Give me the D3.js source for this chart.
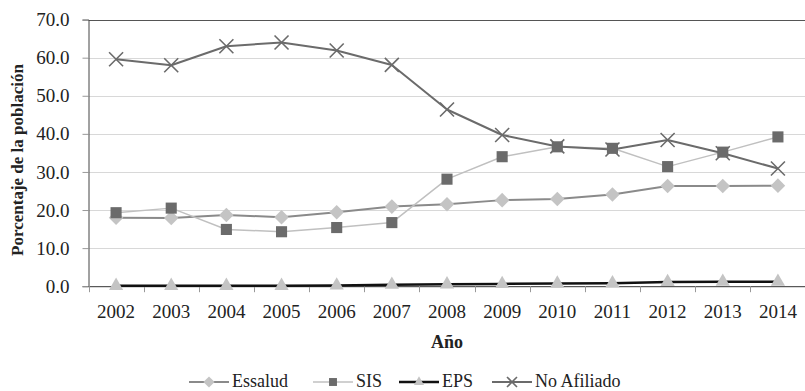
<!DOCTYPE html><html><head><meta charset="UTF-8"><script src="https://d3js.org/d3.v7.min.js"></script><style>
    body { margin: 0; background: #fff; }
    svg { font-family: "Liberation Serif", "Times New Roman", serif; }
</style></head><body><div id="chart"></div><script>
    const years = ['2002','2003','2004','2005','2006','2007','2008','2009','2010','2011','2012','2013','2014'];
    const essalud = [18.0, 17.9, 18.7, 18.1, 19.4, 20.9, 21.5, 22.6, 22.9, 24.1, 26.3, 26.3, 26.4];
    const sis = [19.3, 20.5, 14.9, 14.3, 15.4, 16.7, 28.1, 34.0, 36.6, 36.2, 31.4, 35.2, 39.2];
    const eps = [0.1, 0.1, 0.1, 0.1, 0.2, 0.4, 0.5, 0.6, 0.7, 0.8, 1.1, 1.2, 1.2];
    const noAfiliado = [59.6, 58.0, 63.0, 64.0, 61.9, 58.1, 46.4, 39.7, 36.7, 35.9, 38.4, 34.9, 30.9];
    const yTicks = [0, 10, 20, 30, 40, 50, 60, 70];

    const series = [
        {name: 'Essalud', values: essalud, line: '#8a8a8a', lw: 2, marker: 'diamond', fill: '#c4c4c4'},
        {name: 'SIS', values: sis, line: '#c0c0c0', lw: 1.5, marker: 'square', fill: '#6b6b6b'},
        {name: 'EPS', values: eps, line: '#111', lw: 2.5, marker: 'triangle', fill: '#c4c4c4'},
        {name: 'No Afiliado', values: noAfiliado, line: '#6b6b6b', lw: 2, marker: 'cross', fill: '#6b6b6b'}
    ];

    const W = 805, H = 391;
    const plotLeft = 88.5, plotRight = 805.5, plotTop = 19.6, plotBottom = 286.2;

    const svg = d3.select('#chart').append('svg')
        .attr('width', W).attr('height', H);

    const x = d3.scaleBand().domain(years).range([plotLeft, plotRight]);
    const y = d3.scaleLinear().domain([0, 70]).range([plotBottom, plotTop]);
    const cx = d => x(d) + x.bandwidth() / 2;

    // gridlines
    svg.append('g').selectAll('line')
        .data(yTicks.filter(t => t > 0 && t < 70))
        .enter().append('line')
        .attr('x1', plotLeft).attr('x2', plotRight)
        .attr('y1', d => Math.round(y(d)) + 0.5).attr('y2', d => Math.round(y(d)) + 0.5)
        .attr('stroke', '#b0b0b0').attr('stroke-dasharray', '1,1');

    // top border
    svg.append('line')
        .attr('x1', plotLeft).attr('x2', plotRight)
        .attr('y1', Math.round(y(70)) + 0.5).attr('y2', Math.round(y(70)) + 0.5)
        .attr('stroke', '#555').attr('stroke-width', 1.2);

    // y axis
    const yAxis = svg.append('g')
        .attr('transform', `translate(${plotLeft},0)`)
        .call(d3.axisLeft(y).tickValues(yTicks).tickFormat(d3.format('.1f')).tickSize(6).tickPadding(13));
    yAxis.select('.domain').attr('stroke', '#444');
    yAxis.selectAll('.tick line').attr('stroke', '#999');
    yAxis.selectAll('text').attr('font-size', 19).attr('fill', '#222')
        .attr('font-family', '"Liberation Serif", serif');

    // x axis: ticks at category boundaries
    const xAxis = svg.append('g')
        .attr('transform', `translate(0,${plotBottom})`)
        .call(d3.axisBottom(x).tickSize(0).tickPadding(18));
    xAxis.select('.domain').attr('stroke', '#333');
    xAxis.selectAll('text').attr('font-size', 19).attr('fill', '#222')
        .attr('font-family', '"Liberation Serif", serif');
    xAxis.selectAll('.bound')
        .data(years)
        .enter().append('line')
        .attr('x1', d => Math.round(x(d)) + 0.5).attr('x2', d => Math.round(x(d)) + 0.5)
        .attr('y1', 0).attr('y2', 6)
        .attr('stroke', '#999');

    // axis titles
    svg.append('text')
        .attr('x', (plotLeft + plotRight) / 2).attr('y', 348)
        .attr('text-anchor', 'middle')
        .attr('font-size', 18).attr('font-weight', 'bold').attr('fill', '#222')
        .text('Año');

    svg.append('text')
        .attr('transform', 'translate(23,160) rotate(-90)')
        .attr('text-anchor', 'middle')
        .attr('font-size', 17).attr('font-weight', 'bold').attr('fill', '#222')
        .text('Porcentaje de la población');

    // marker drawing helper
    function drawMarker(g, type, fill, size) {
        if (type === 'cross') {
            const s = size / 2;
            g.append('path').attr('d', `M${-s},${-s}L${s},${s}M${-s},${s}L${s},${-s}`)
                .attr('stroke', fill).attr('stroke-width', 1.6).attr('fill', 'none');
        } else {
            const sym = type === 'diamond' ? d3.symbolDiamond2 : type === 'square' ? d3.symbolSquare2 : d3.symbolTriangle2;
            g.append('path').attr('d', d3.symbol(sym, type === 'triangle' ? size * size * 0.5 : size * size * 0.8)())
                .attr('fill', fill);
        }
    }

    const line = d3.line().x((d, i) => cx(years[i])).y(d => y(d));

    // lines first
    series.forEach(s => {
        svg.append('path').datum(s.values)
            .attr('d', line)
            .attr('fill', 'none').attr('stroke', s.line).attr('stroke-width', s.lw)
            .attr('stroke-linejoin', 'round');
    });

    // markers
    const markerOrder = [0, 3, 1, 2];
    const sizes = {diamond: 13, square: 14, triangle: 17, cross: 14};
    markerOrder.forEach(k => {
        const s = series[k];
        s.values.forEach((v, i) => {
            const g = svg.append('g').attr('transform', `translate(${cx(years[i])},${y(v)})`);
            drawMarker(g, s.marker, s.fill, sizes[s.marker]);
        });
    });

    // legend
    const legendX = [189, 313, 399, 492];
    const legendY = 382;
    series.forEach((s, i) => {
        const g = svg.append('g').attr('transform', `translate(${legendX[i]},${legendY})`);
        g.append('line').attr('x1', 0).attr('x2', 40).attr('y1', 0).attr('y2', 0)
            .attr('stroke', s.line).attr('stroke-width', s.lw);
        const m = g.append('g').attr('transform', 'translate(20,0)');
        drawMarker(m, s.marker, s.fill, s.marker === 'triangle' ? 12 : 10);
        g.append('text').attr('x', 43).attr('y', 5)
            .attr('font-size', 18).attr('fill', '#222')
            .text(s.name);
    });
</script></body></html>
